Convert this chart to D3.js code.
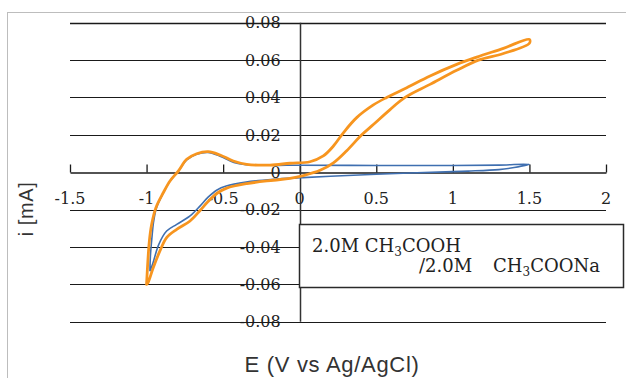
<!DOCTYPE html>
<html>
<head>
<meta charset="utf-8">
<script src="https://cdn.jsdelivr.net/npm/d3@7"></script>
<style>
  body { margin: 0; background: white; }
  svg { display: block; }
</style>
</head>
<body>
<div id="cv_chart"></div>
<script>
// cyclic voltammogram, 2.0M CH3COOH / 2.0M CH3COONa

// axis ticks
const xTicks = [-1.5, -1, -0.5, 0, 0.5, 1, 1.5, 2];
const yTicks = [-0.08, -0.06, -0.04, -0.02, 0, 0.02, 0.04, 0.06, 0.08];

// blue loop (potential in V, current in mA)
const blueE = [-0.978, -0.975, -0.965, -0.955, -0.935, -0.89, -0.845, -0.79, -0.738, -0.673, -0.6, -0.52, -0.43, -0.35, -0.2, 0, 0.5, 1.0, 1.3, 1.5,
               1.4, 1.3, 1.1, 1.0, 0.5, 0.2, 0, -0.17, -0.35, -0.48, -0.54, -0.6, -0.65, -0.716, -0.803, -0.869, -0.92, -0.96, -0.978];
const blueI = [-0.053, -0.045, -0.035, -0.027, -0.019, -0.011, -0.0045, 0.0008, 0.0066, 0.0096, 0.0106, 0.0086, 0.0052, 0.0040, 0.0037, 0.0037, 0.0036, 0.0036, 0.0038, 0.0042,
               0.0025, 0.0014, 0.0006, 0.0003, -0.0011, -0.0022, -0.003, -0.0038, -0.0053, -0.0074, -0.0095, -0.0135, -0.018, -0.0234, -0.0279, -0.0315, -0.0386, -0.049, -0.053];

// orange loop (potential in V, current in mA)
const orangeE = [-1.0, -0.982, -0.967, -0.939, -0.891, -0.847, -0.793, -0.738, -0.673, -0.597, -0.52, -0.434, -0.346, -0.194, -0.063, 0.067, 0.154, 0.22, 0.285, 0.372, 0.481, 0.568, 0.699, 0.851, 1.025, 1.156, 1.33, 1.5,
                 1.5, 1.33, 1.167, 1.025, 0.851, 0.688, 0.59, 0.481, 0.405, 0.307, 0.22, 0.133, 0.024, -0.063, -0.172, -0.346, -0.477, -0.535, -0.6, -0.651, -0.716, -0.803, -0.869, -0.912, -0.956, -0.99, -1.0];
const orangeI = [-0.060, -0.037, -0.028, -0.019, -0.011, -0.0047, 0.0006, 0.0069, 0.0099, 0.011, 0.0092, 0.006, 0.0042, 0.0038, 0.0048, 0.0056, 0.0087, 0.014, 0.0211, 0.0292, 0.036, 0.040, 0.0452, 0.0515, 0.0577, 0.0616, 0.0663, 0.0711,
                 0.069, 0.0635, 0.060, 0.0545, 0.047, 0.040, 0.0335, 0.0255, 0.020, 0.0115, 0.005, 0.001, -0.0018, -0.0033, -0.0043, -0.0061, -0.0085, -0.011, -0.0158, -0.0205, -0.0261, -0.0306, -0.035, -0.042, -0.051, -0.059, -0.060];

const w = 626, h = 378;
const fontSerif = "'DejaVu Serif', 'Liberation Serif', serif";
const fontSans = "'Liberation Sans', Arial, sans-serif";
const colorBlue = "#3f6fb0";
const colorOrange = "#f7951f";
const lineBlack = "#1a1a1a";

// scales
const x = d3.scaleLinear().domain([-1.5, 2]).range([70, 606]);
const y = d3.scaleLinear().domain([-0.08, 0.08]).range([321.7, 22.7]);

const svg = d3.select("#cv_chart")
  .append("svg")
  .attr("width", w)
  .attr("height", h);

// outer frame (only top and left visible)
svg.append("rect")
  .attr("x", 7.5)
  .attr("y", 12.5)
  .attr("width", 700)
  .attr("height", 500)
  .attr("fill", "white")
  .attr("stroke", "#bdbdbd")
  .attr("stroke-width", 1);

// y tick labels (left of the y axis, gridlines run through them)
svg.append("g")
  .selectAll("text")
  .data(yTicks)
  .join("text")
    .attr("x", x(0) - 19)
    .attr("y", d => y(d))
    .attr("dy", "0.36em")
    .attr("text-anchor", "end")
    .style("font-family", fontSerif)
    .style("font-size", "16px")
    .style("fill", "#222")
    .text(d => d === 0 ? "0" : d.toFixed(2));

// x tick labels (below the x axis)
svg.append("g")
  .selectAll("text")
  .data(xTicks)
  .join("text")
    .attr("x", d => x(d))
    .attr("y", y(0) + 32)
    .attr("text-anchor", "middle")
    .style("font-family", fontSerif)
    .style("font-size", "16px")
    .style("fill", "#222")
    .text(d => String(d));

// horizontal gridlines
svg.append("g")
  .selectAll("line")
  .data(yTicks.filter(d => d !== 0))
  .join("line")
    .attr("x1", x(-1.5))
    .attr("x2", x(2))
    .attr("y1", d => Math.round(y(d)) + 0.5)
    .attr("y2", d => Math.round(y(d)) + 0.5)
    .attr("stroke", lineBlack)
    .attr("stroke-width", d => d === 0.08 ? 1.6 : 1);

// x axis with ticks pointing up
const xAxis = svg.append("g")
  .attr("transform", `translate(0,${Math.round(y(0)) + 0.5})`)
  .call(d3.axisTop(x).tickValues(xTicks).tickSize(8).tickSizeOuter(0).tickFormat(""))
  .call(g => g.select(".domain").attr("stroke", lineBlack).attr("stroke-width", 1.5))
  .call(g => g.selectAll(".tick line").attr("stroke", lineBlack).attr("stroke-width", 1.3));

// y axis at E = 0
svg.append("line")
  .attr("x1", Math.round(x(0)) + 0.5)
  .attr("x2", Math.round(x(0)) + 0.5)
  .attr("y1", y(0.08))
  .attr("y2", y(-0.08))
  .attr("stroke", "#333")
  .attr("stroke-width", 1.5);

// line generator
const line = d3.line()
  .x(d => x(d[0]))
  .y(d => y(d[1]))
  .curve(d3.curveCatmullRom.alpha(0.5));

const bluePoints = d3.zip(blueE, blueI);
const orangePoints = d3.zip(orangeE, orangeI);

// blue loop
svg.append("path")
  .datum(bluePoints)
  .attr("d", line)
  .attr("fill", "none")
  .attr("stroke", colorBlue)
  .attr("stroke-width", 1.6)
  .attr("stroke-linejoin", "round");

// orange loop
svg.append("path")
  .datum(orangePoints)
  .attr("d", line)
  .attr("fill", "none")
  .attr("stroke", colorOrange)
  .attr("stroke-width", 2.8)
  .attr("stroke-linejoin", "round")
  .attr("stroke-linecap", "round");

// legend box
svg.append("rect")
  .attr("x", 299.5)
  .attr("y", 224.5)
  .attr("width", 324)
  .attr("height", 63)
  .attr("fill", "white")
  .attr("stroke", "#2a2a2a")
  .attr("stroke-width", 1.5);

const legend1 = svg.append("text")
  .attr("x", 312)
  .attr("y", 251.5)
  .style("font-family", fontSerif)
  .style("font-size", "18px")
  .style("fill", "#222");
legend1.append("tspan").text("2.0M CH");
legend1.append("tspan").attr("dy", 4).style("font-size", "12px").text("3");
legend1.append("tspan").attr("dy", -4).text("COOH");

const legend2 = svg.append("text")
  .attr("y", 271.5)
  .style("font-family", fontSerif)
  .style("font-size", "18px")
  .style("fill", "#222");
legend2.append("tspan").attr("x", 419).text("/2.0M");
legend2.append("tspan").attr("x", 493).text("CH");
legend2.append("tspan").attr("dy", 4).style("font-size", "12px").text("3");
legend2.append("tspan").attr("dy", -4).text("COONa");

// axis titles
svg.append("text")
  .attr("transform", `translate(33,${209}) rotate(-90)`)
  .attr("text-anchor", "middle")
  .style("font-family", fontSans)
  .style("font-size", "20px")
  .style("letter-spacing", "0.6px")
  .style("fill", "#333")
  .text("i [mA]");

svg.append("text")
  .attr("x", 332)
  .attr("y", 372)
  .attr("text-anchor", "middle")
  .style("font-family", fontSans)
  .style("font-size", "22px")
  .style("letter-spacing", "0.7px")
  .style("fill", "#333")
  .text("E (V vs Ag/AgCl)");
</script>
</body>
</html>
